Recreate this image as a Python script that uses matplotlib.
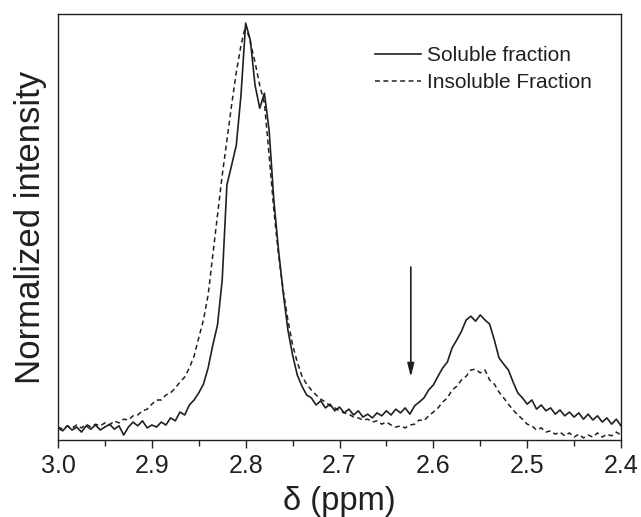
import numpy as np
import matplotlib
matplotlib.use("Agg")
import matplotlib.pyplot as plt

plt.rcParams['font.family'] = ['Liberation Sans', 'DejaVu Sans']

# chemical shift grid (ppm), 3.0 -> 2.4 in 0.005 steps
ppm = np.linspace(3.0, 2.4, 121)

soluble = [
    0.029, 0.022, 0.034, 0.024, 0.031, 0.019, 0.034, 0.026, 0.036, 0.024,
    0.031, 0.038, 0.026, 0.034, 0.012, 0.031, 0.043, 0.034, 0.046, 0.029,
    0.036, 0.031, 0.043, 0.036, 0.053, 0.046, 0.067, 0.060, 0.084, 0.096,
    0.113, 0.134, 0.173, 0.228, 0.276, 0.384, 0.612, 0.659, 0.707, 0.827,
    1.000, 0.959, 0.851, 0.796, 0.832, 0.743, 0.576, 0.456, 0.353, 0.264,
    0.204, 0.156, 0.129, 0.108, 0.101, 0.084, 0.094, 0.077, 0.086, 0.070,
    0.079, 0.065, 0.074, 0.060, 0.070, 0.055, 0.062, 0.053, 0.065, 0.058,
    0.070, 0.060, 0.074, 0.065, 0.077, 0.062, 0.082, 0.091, 0.101, 0.120,
    0.132, 0.153, 0.173, 0.187, 0.221, 0.240, 0.261, 0.288, 0.297, 0.285,
    0.300, 0.288, 0.278, 0.240, 0.197, 0.182, 0.168, 0.139, 0.113, 0.101,
    0.086, 0.096, 0.074, 0.084, 0.070, 0.077, 0.062, 0.072, 0.058, 0.067,
    0.055, 0.065, 0.050, 0.062, 0.048, 0.058, 0.043, 0.053, 0.038, 0.050,
    0.034,
]

insoluble = [
    0.031, 0.026, 0.034, 0.029, 0.036, 0.029, 0.038, 0.031, 0.038, 0.034,
    0.041, 0.036, 0.046, 0.041, 0.050, 0.048, 0.058, 0.060, 0.070, 0.074,
    0.086, 0.096, 0.096, 0.108, 0.113, 0.125, 0.139, 0.151, 0.173, 0.201,
    0.245, 0.288, 0.348, 0.444, 0.540, 0.635, 0.719, 0.803, 0.882, 0.947,
    0.995, 0.954, 0.906, 0.851, 0.808, 0.683, 0.552, 0.444, 0.360, 0.288,
    0.228, 0.187, 0.153, 0.134, 0.120, 0.108, 0.098, 0.091, 0.082, 0.077,
    0.070, 0.065, 0.062, 0.055, 0.053, 0.048, 0.050, 0.043, 0.046, 0.038,
    0.043, 0.036, 0.031, 0.034, 0.029, 0.036, 0.038, 0.048, 0.046, 0.058,
    0.067, 0.077, 0.091, 0.101, 0.120, 0.129, 0.144, 0.153, 0.168, 0.170,
    0.161, 0.168, 0.144, 0.134, 0.115, 0.101, 0.086, 0.072, 0.060, 0.050,
    0.038, 0.034, 0.024, 0.029, 0.019, 0.022, 0.014, 0.019, 0.010, 0.017,
    0.007, 0.014, 0.005, 0.012, 0.007, 0.017, 0.007, 0.014, 0.010, 0.019,
    0.012,
]

arrow_ppm = 2.624
arrow_top = 0.415
arrow_tip = 0.151

fig = plt.figure(figsize=(6.41, 5.17), dpi=100)
ax = fig.add_axes([58/641, 77/517, 563/641, 426/517])

ink = '#231f20'
ax.plot(ppm, soluble, color=ink, lw=1.2, label='Soluble fraction')
ax.plot(ppm, insoluble, color=ink, lw=1.1, dashes=(3.2, 2.3), label='Insoluble Fraction')

ax.annotate('', xy=(arrow_ppm, arrow_tip), xytext=(arrow_ppm, arrow_top),
            arrowprops=dict(arrowstyle='-|>,head_length=0.8,head_width=0.2',
                            color=ink, lw=1.2, shrinkA=0, shrinkB=0))

ax.set_xlim(3.0, 2.4)
ax.set_ylim(0, 1.022)
ax.set_xticks([3.0, 2.9, 2.8, 2.7, 2.6, 2.5, 2.4])
ax.set_xticks([2.95, 2.85, 2.75, 2.65, 2.55, 2.45], minor=True)
ax.set_xticklabels(['3.0', '2.9', '2.8', '2.7', '2.6', '2.5', '2.4'])
ax.set_yticks([])
ax.tick_params(axis='x', which='major', direction='out', length=6, width=1, color=ink,
               labelsize=18, labelcolor=ink, pad=4)
ax.tick_params(axis='x', which='minor', direction='out', length=4, width=1, color=ink)
for s in ax.spines.values():
    s.set_color(ink)
    s.set_linewidth(1.0)

ax.set_xlabel('δ (ppm)', fontsize=23.5, color=ink, labelpad=6)
ax.set_ylabel('Normalized intensity', fontsize=25, color=ink, labelpad=8)

leg = ax.legend(loc='upper left', bbox_to_anchor=(375/641, 1 - 46/517),
                bbox_transform=fig.transFigure, frameon=False, fontsize=15,
                handlelength=2.2, handletextpad=0.3, labelspacing=0.4,
                borderpad=0, borderaxespad=0)
for t in leg.get_texts():
    t.set_color(ink)

fig.savefig('out.png', dpi=100)
